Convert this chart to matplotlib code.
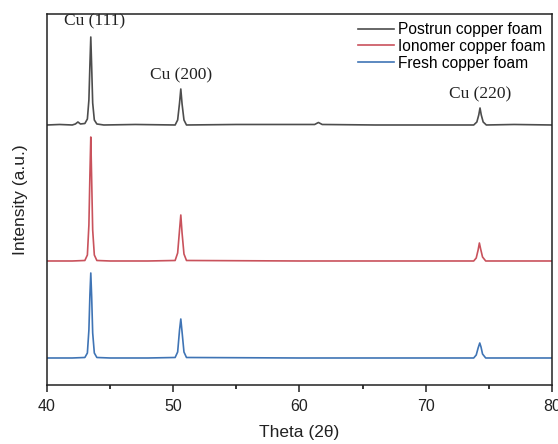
import matplotlib
matplotlib.use("Agg")
import matplotlib.pyplot as plt
from matplotlib.ticker import MultipleLocator

plt.rcParams["font.family"] = ["Liberation Sans", "DejaVu Sans"]

# ---- data (intensity in arbitrary offset units) ----
postrun_x = [40.0, 41.0, 42.0, 42.25, 42.45, 42.65, 43.0, 43.2, 43.32, 43.4, 43.47, 43.54, 43.62, 43.75, 43.95, 44.5,
             47.0, 50.15, 50.35, 50.5, 50.6, 50.7, 50.85, 51.05, 55.0, 61.2, 61.5, 61.8, 66.0,
             73.8, 74.05, 74.2, 74.3, 74.4, 74.55, 74.8, 77.0, 80.0]
postrun_y = [260, 260.5, 260, 261, 263, 261, 261.5, 266, 285, 320, 348, 318, 282, 265, 261, 260,
             260.5, 260, 265, 282, 296, 281, 265, 260, 260.5, 260.5, 262.5, 260.5, 260,
             260, 263, 270, 277, 270, 263, 260, 260.5, 260]

ionomer_x = [40.0, 42.0, 43.0, 43.2, 43.32, 43.4, 43.47, 43.54, 43.62, 43.75, 43.95, 45.0,
             48.0, 50.15, 50.35, 50.5, 50.6, 50.7, 50.85, 51.05, 60.0,
             73.8, 74.0, 74.15, 74.25, 74.35, 74.5, 74.75, 80.0]
ionomer_y = [124, 124, 124.5, 130, 160, 210, 248, 205, 155, 130, 124.5, 124,
             124, 124.5, 132, 155, 170, 152, 131, 124.5, 124,
             124, 127, 135, 142, 136, 128, 124, 124]

fresh_x = [40.0, 42.0, 43.0, 43.2, 43.32, 43.4, 43.47, 43.54, 43.62, 43.75, 43.95, 45.0,
           48.0, 50.15, 50.35, 50.5, 50.6, 50.7, 50.85, 51.05, 60.0,
           73.8, 74.0, 74.15, 74.28, 74.38, 74.5, 74.75, 80.0]
fresh_y = [27, 27, 27.5, 32, 55, 90, 112, 88, 52, 32, 27.5, 27,
           27, 27.5, 33, 55, 66, 53, 33, 27.5, 27,
           27, 30, 37, 42, 38, 31, 27, 27]

series_labels = ["Postrun copper foam", "Ionomer copper foam", "Fresh copper foam"]
series_colors = ["#4d4d4d", "#c9525c", "#3f74b5"]

peak_labels = ["Cu (111)", "Cu (200)", "Cu (220)"]
peak_pos = [43.8, 50.6, 74.3]
peak_label_y = [356, 302, 283]

x_ticks = [40, 50, 60, 70, 80]

# ---- figure ----
fig = plt.figure(figsize=(5.58, 4.44), dpi=100)
ax = fig.add_axes([0.0842, 0.1329, 0.905, 0.8356])

for xs, ys, lab, col in zip([postrun_x, ionomer_x, fresh_x],
                            [postrun_y, ionomer_y, fresh_y],
                            series_labels, series_colors):
    ax.plot(xs, ys, color=col, lw=1.2, label=lab)

for lab, xp, yp in zip(peak_labels, peak_pos, peak_label_y):
    ax.text(xp, yp, lab, ha="center", va="bottom", fontsize=12.5,
            family="Liberation Serif", color="#222222")

ax.set_xlim(40, 80)
ax.set_ylim(0, 371)
ax.set_xticks(x_ticks)
ax.xaxis.set_minor_locator(MultipleLocator(5))
ax.set_yticks([])
ax.tick_params(axis="x", which="major", direction="out", length=5, width=1.1,
               labelsize=11.5, pad=5, colors="#222222")
ax.tick_params(axis="x", which="minor", direction="out", length=3, width=1.1)
for s in ax.spines.values():
    s.set_linewidth(1.1)
    s.set_color("#222222")

ax.set_xlabel("Theta (2θ)", fontsize=12.5, labelpad=8, color="#222222")
ax.set_ylabel("Intensity (a.u.)", fontsize=12.5, labelpad=14, color="#222222")

leg = ax.legend(loc="upper right", frameon=False, fontsize=11.2, handlelength=2.3,
                handletextpad=0.3, labelspacing=0.12, borderaxespad=0.0,
                bbox_to_anchor=(1.0, 0.995))

fig.savefig("out.png", dpi=100)
